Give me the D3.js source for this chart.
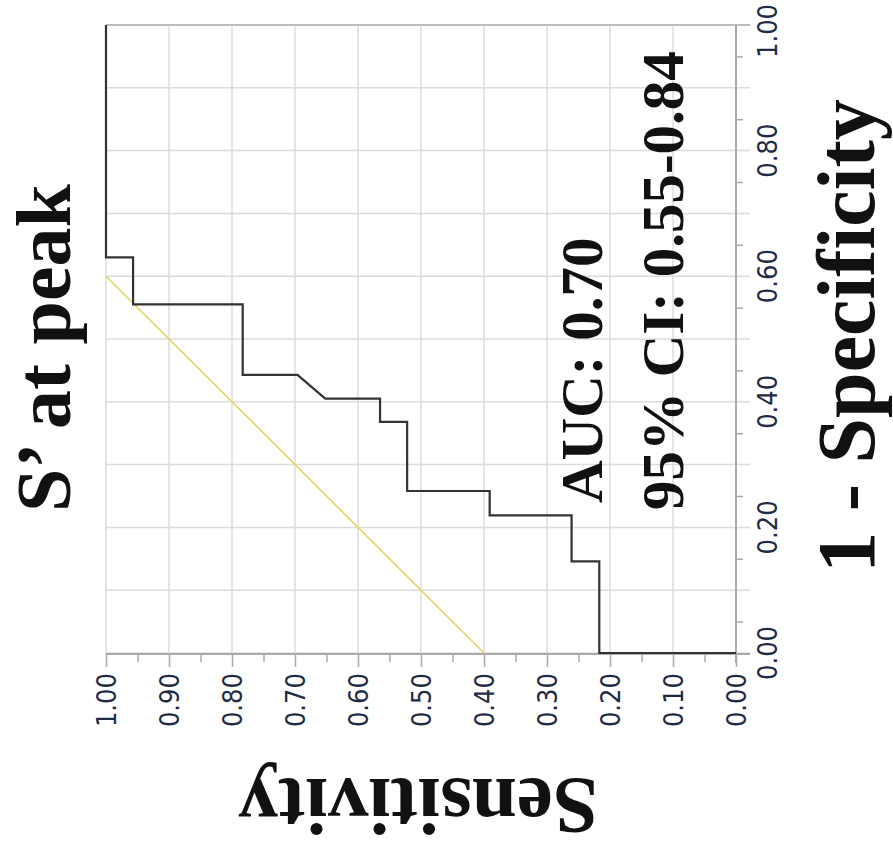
<!DOCTYPE html>
<html>
<head>
<meta charset="utf-8">
<script src="https://d3js.org/d3.v7.min.js"></script>
<style>
  body { margin: 0; background: #fff; }
  .tick text { font-family: "DejaVu Sans Condensed", "DejaVu Sans", sans-serif; font-stretch: condensed; font-size: 27px; fill: #1f2a44; }
  .big { font-family: "Liberation Serif", "Times New Roman", serif; font-weight: bold; fill: #111; }
</style>
</head>
<body>
<div class="chart"></div>
<script>
// ROC curve, drawn rotated: sensitivity runs along the bottom (1 -> 0), 1 - specificity up the right side
var sensitivity = [1.00, 1.00, 0.957, 0.957, 0.783, 0.783, 0.696, 0.652, 0.565, 0.565, 0.522, 0.522, 0.391, 0.391, 0.261, 0.261, 0.217, 0.217, 0.00],
    falsePos    = [1.00, 0.630, 0.630, 0.555, 0.555, 0.443, 0.443, 0.405, 0.405, 0.368, 0.368, 0.258, 0.258, 0.219, 0.219, 0.146, 0.146, 0.00, 0.00],
    refSens = [1.00, 0.40],
    refFpr  = [0.60, 0.00],
    bottomTicks = [1.0, 0.9, 0.8, 0.7, 0.6, 0.5, 0.4, 0.3, 0.2, 0.1, 0.0],
    rightTicks = [0.0, 0.1, 0.2, 0.3, 0.4, 0.5, 0.6, 0.7, 0.8, 0.9, 1.0],
    rightLabels = [0.0, 0.2, 0.4, 0.6, 0.8, 1.0],
    aucText = "AUC: 0.70",
    ciText = "95% CI: 0.55-0.84";

var width = 893, height = 854,
    plotLeft = 106, plotRight = 736, plotTop = 25, plotBottom = 653,
    xScale = d3.scaleLinear().domain([1, 0]).range([plotLeft, plotRight]),
    yScale = d3.scaleLinear().domain([0, 1]).range([plotBottom, plotTop]),
    f = d3.format(".2f");

var svg = d3.select(".chart").append("svg")
    .attr("width", width)
    .attr("height", height);

// grid
svg.append("g").selectAll("line")
    .data(bottomTicks)
    .enter().append("line")
    .attr("x1", function(d) { return xScale(d); })
    .attr("x2", function(d) { return xScale(d); })
    .attr("y1", plotTop)
    .attr("y2", plotBottom)
    .attr("stroke", "#dcdcdc")
    .attr("stroke-width", 1.5);

svg.append("g").selectAll("line")
    .data(rightTicks)
    .enter().append("line")
    .attr("x1", plotLeft)
    .attr("x2", plotRight + 14)
    .attr("y1", function(d) { return yScale(d); })
    .attr("y2", function(d) { return yScale(d); })
    .attr("stroke", function(d) { return d == 1 ? "#bdbdbd" : "#dcdcdc"; })
    .attr("stroke-width", function(d) { return d == 1 ? 2 : 1.5; });

// bottom axis (sensitivity)
var xAxis = d3.axisBottom(xScale).tickValues(bottomTicks).tickSize(13).tickFormat(f),
    xMinor = d3.axisBottom(xScale).tickValues(d3.range(0.05, 1, 0.1)).tickSize(8).tickFormat("");

var gx = svg.append("g")
    .attr("class", "axis axis--x")
    .attr("transform", "translate(0," + (plotBottom + 1) + ")")
    .call(xAxis);
gx.selectAll("text")
    .style("text-anchor", "end")
    .attr("x", -19)
    .attr("y", 0)
    .attr("dy", "0.35em")
    .attr("transform", "rotate(-90)");
svg.append("g")
    .attr("class", "axis")
    .attr("transform", "translate(0," + (plotBottom + 1) + ")")
    .call(xMinor);
svg.selectAll(".axis .domain").remove();
svg.append("line")
    .attr("x1", plotLeft).attr("x2", plotRight + 14)
    .attr("y1", plotBottom + 1).attr("y2", plotBottom + 1)
    .attr("stroke", "#aaa").attr("stroke-width", 2);

// right axis (1 - specificity)
var yMinor = d3.axisRight(yScale).tickValues(d3.range(0.05, 1, 0.1)).tickSize(7).tickFormat("");
svg.append("g")
    .attr("class", "axis")
    .attr("transform", "translate(" + plotRight + ",0)")
    .call(yMinor)
    .select(".domain").remove();
svg.append("line")
    .attr("x1", plotRight).attr("x2", plotRight)
    .attr("y1", plotTop).attr("y2", plotBottom + 10)
    .attr("stroke", "#aaa").attr("stroke-width", 2);
svg.selectAll(".axis line").attr("stroke", "#aaa").attr("stroke-width", 1.5);

// the top label is nudged down so it stays inside the page, as in the original
svg.append("g").selectAll("text")
    .data(rightLabels)
    .enter().append("text")
    .attr("transform", function(d) {
        var y = yScale(d) + (d == 1 ? 6 : 0);
        return "translate(" + (plotRight + 32) + "," + y + ") rotate(-90)";
    })
    .attr("dy", "0.35em")
    .style("text-anchor", "middle")
    .style("font-family", "'DejaVu Sans Condensed', 'DejaVu Sans', sans-serif")
    .style("font-stretch", "condensed")
    .style("font-size", "27px")
    .style("fill", "#1f2a44")
    .text(function(d) { return f(d); });

// reference line
var line = d3.line()
    .x(function(d) { return xScale(d[0]); })
    .y(function(d) { return yScale(d[1]); });

svg.append("path")
    .datum(d3.zip(refSens, refFpr))
    .attr("fill", "none")
    .attr("stroke", "#e3d75c")
    .attr("stroke-width", 1.6)
    .attr("d", line);

// ROC curve
svg.append("path")
    .datum(d3.zip(sensitivity, falsePos))
    .attr("fill", "none")
    .attr("stroke", "#333")
    .attr("stroke-width", 2.2)
    .attr("d", line);

// labels
svg.append("text")
    .attr("class", "big")
    .attr("transform", "translate(70,348) rotate(-90)")
    .style("text-anchor", "middle")
    .style("font-size", "78px")
    .text("S\u2019 at peak");

svg.append("text")
    .attr("class", "big")
    .attr("transform", "translate(874,336) rotate(-90)")
    .style("text-anchor", "middle")
    .style("font-size", "82px")
    .text("1 - Specificity");

svg.append("text")
    .attr("class", "big")
    .attr("transform", "translate(418,779) rotate(180)")
    .style("text-anchor", "middle")
    .style("font-size", "81px")
    .text("Sensitivity");

svg.append("text")
    .attr("class", "big")
    .attr("transform", "translate(602,503) rotate(-90)")
    .style("text-anchor", "start")
    .style("font-size", "59px")
    .text(aucText);

svg.append("text")
    .attr("class", "big")
    .attr("transform", "translate(683,510) rotate(-90)")
    .style("text-anchor", "start")
    .style("font-size", "59px")
    .text(ciText);
</script>
</body>
</html>
